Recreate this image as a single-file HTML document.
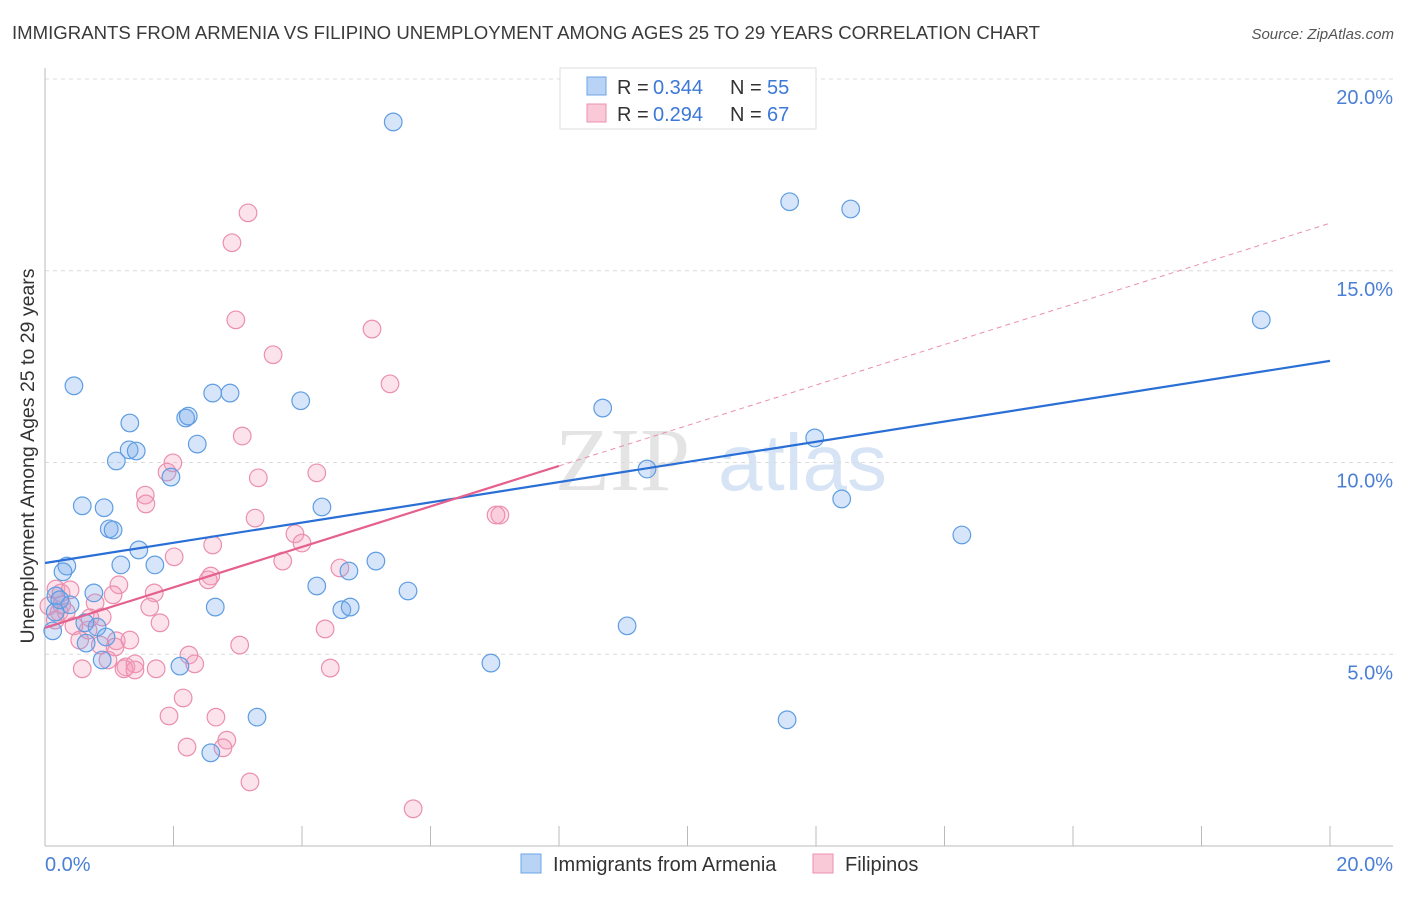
<!DOCTYPE html>
<html><head><meta charset="utf-8"><style>
body{margin:0;background:#fff;font-family:"Liberation Sans",sans-serif;}
</style></head><body>
<svg id="c" width="1406" height="892" xmlns="http://www.w3.org/2000/svg" style="font-family:'Liberation Sans',sans-serif">
<text x="12" y="39" font-size="18.6" fill="#3a3a3a">IMMIGRANTS FROM ARMENIA VS FILIPINO UNEMPLOYMENT AMONG AGES 25 TO 29 YEARS CORRELATION CHART</text>
<text x="1394" y="39" font-size="15" font-style="italic" fill="#555" text-anchor="end">Source: ZipAtlas.com</text>
<g><text x="555" y="490" font-size="90" fill="#e4e4e4" font-family="Liberation Serif,serif">ZIP</text><text x="718" y="490" font-size="80" fill="#d6e4f5">atlas</text></g>
<g id="grid"></g><g id="marks"></g>
<text transform="translate(34,456) rotate(-90)" font-size="19.5" fill="#333" text-anchor="middle">Unemployment Among Ages 25 to 29 years</text>
<g>
<rect x="560" y="68" width="256" height="61" fill="#fff" stroke="#ddd"/>
<rect x="587" y="77" width="19" height="18" fill="#b8d3f5" stroke="#6ea5e6"/>
<text x="617" y="94" font-size="20" fill="#333">R =</text><text x="653" y="94" font-size="20" fill="#3c78d8">0.344</text>
<text x="730" y="94" font-size="20" fill="#333">N =</text><text x="767" y="94" font-size="20" fill="#3c78d8">55</text>
<rect x="587" y="104" width="19" height="18" fill="#f9c9d8" stroke="#ec8fae"/>
<text x="617" y="121" font-size="20" fill="#333">R =</text><text x="653" y="121" font-size="20" fill="#3c78d8">0.294</text>
<text x="730" y="121" font-size="20" fill="#333">N =</text><text x="767" y="121" font-size="20" fill="#3c78d8">67</text>
</g>
<g>
<rect x="521" y="854" width="20" height="19" fill="#b8d3f5" stroke="#6ea5e6"/>
<text x="553" y="871" font-size="20" fill="#333">Immigrants from Armenia</text>
<rect x="813" y="854" width="20" height="19" fill="#f9c9d8" stroke="#ec8fae"/>
<text x="845" y="871" font-size="20" fill="#333">Filipinos</text>
</g>
<text x="45" y="871" font-size="20" fill="#4a7fd6">0.0%</text>
<text x="1393" y="871" font-size="20" fill="#4a7fd6" text-anchor="end">20.0%</text>
</svg>
<script>
const yTicks=[5,10,15,20];
const yTickLabels=["5.0%","10.0%","15.0%","20.0%"];
const xTicks=[0,2,4,6,8,10,12,14,16,18,20];
const blueX=[5.42,11.59,12.54,18.93,0.45,2.61,2.88,3.98,8.68,1.32,2.19,2.23,1.31,1.42,2.37,1.11,11.98,1.96,9.37,12.40,0.58,0.92,1.00,1.06,4.31,14.27,1.46,0.34,0.28,1.18,1.71,5.15,4.73,4.23,5.65,0.76,2.65,4.62,4.75,0.17,0.39,0.16,0.81,9.06,0.95,0.12,0.64,0.89,2.10,6.94,11.55,3.30,2.58,0.62,0.23];
const blueY=[18.88,16.80,16.61,13.72,12.00,11.81,11.81,11.61,11.42,11.03,11.16,11.21,10.33,10.30,10.48,10.04,10.64,9.62,9.83,9.05,8.87,8.82,8.27,8.24,8.84,8.11,7.72,7.30,7.15,7.33,7.33,7.43,7.17,6.78,6.65,6.60,6.23,6.16,6.23,6.52,6.29,6.10,5.71,5.74,5.45,5.61,5.29,4.85,4.69,4.77,3.29,3.36,2.43,5.82,6.42];
const pinkX=[3.16,2.91,2.97,5.09,3.55,5.37,3.07,1.99,1.90,3.32,4.23,1.56,1.57,7.08,7.02,3.27,3.89,4.00,2.61,2.01,3.70,4.59,2.58,2.54,1.15,1.06,1.70,0.17,0.25,1.63,0.78,0.22,0.06,0.33,0.89,1.79,4.36,0.45,0.67,0.54,1.11,1.32,3.03,2.24,1.09,0.98,1.26,1.40,2.33,1.73,0.58,4.44,1.23,2.15,1.93,2.66,2.83,2.77,2.21,3.19,5.73,0.26,0.16,0.39,0.70,0.86,1.40];
const pinkY=[16.51,15.73,13.72,13.48,12.81,12.05,10.69,9.99,9.75,9.60,9.73,9.15,8.92,8.63,8.63,8.55,8.14,7.90,7.85,7.54,7.43,7.25,7.04,6.94,6.81,6.55,6.60,6.70,6.60,6.23,6.34,6.10,6.26,6.10,5.97,5.82,5.66,5.74,5.63,5.37,5.35,5.37,5.24,4.98,5.19,4.85,4.67,4.75,4.75,4.62,4.62,4.64,4.62,3.86,3.39,3.36,2.76,2.56,2.58,1.67,0.97,6.29,5.89,6.68,5.95,5.24,4.59];
const blueTrend=[7.38,12.65];
const pinkTrend=[5.69,16.24];
const pinkSolidEnd=8;
const X0=45,X1=1330,Y0=846,Y1=79;
const sx=v=>X0+(X1-X0)*v/20, sy=v=>Y0-(Y0-Y1)*v/20;
const NS="http://www.w3.org/2000/svg";
function mk(t,a,p){const e=document.createElementNS(NS,t);for(const k in a)e.setAttribute(k,a[k]);p.appendChild(e);return e;}
const g=document.getElementById('grid'),m=document.getElementById('marks');
yTicks.forEach((v,i)=>{
 const l=mk('line',{x1:X0,x2:1393,y1:sy(v),y2:sy(v),stroke:'#dcdcdc','stroke-dasharray':'4,4'},g);
 
 
 const t=mk('text',{x:1393,y:sy(v)+25,'font-size':20,fill:'#4a7fd6','text-anchor':'end'},g);t.textContent=yTickLabels[i];
 
 
});
const ax=mk('line',{x1:X0,x2:X0,y1:68,y2:Y0,stroke:'#bbb'},g);


const bx=mk('line',{x1:X0,x2:1393,y1:Y0,y2:Y0,stroke:'#bbb'},g);


xTicks.forEach(v=>{const t=mk('line',{x1:sx(v),x2:sx(v),y1:Y0-20,y2:Y0,stroke:'#bbb'},g);
 
 });
function pts(xs,ys,fill,stroke,name){xs.forEach((x,i)=>{const c=mk('circle',{cx:sx(x),cy:sy(ys[i]),r:8.8,fill:fill,stroke:stroke,'stroke-width':1.2},m);
 
 });}
pts(pinkX,pinkY,'rgba(244,160,188,0.3)','#eb8fae','filipinos-point');
pts(blueX,blueY,'rgba(120,170,235,0.3)','#5f9de2','armenia-point');
const pd=mk('line',{x1:sx(pinkSolidEnd),y1:sy(pinkTrend[0]+(pinkTrend[1]-pinkTrend[0])*pinkSolidEnd/20),x2:sx(20),y2:sy(pinkTrend[1]),stroke:'#eb8fae','stroke-width':1,'stroke-dasharray':'5,4'},m);


const bl=mk('line',{x1:sx(0),y1:sy(blueTrend[0]),x2:sx(20),y2:sy(blueTrend[1]),stroke:'#2a6fd6','stroke-width':2.2},m);


const pl=mk('line',{x1:sx(0),y1:sy(pinkTrend[0]),x2:sx(pinkSolidEnd),y2:sy(pinkTrend[0]+(pinkTrend[1]-pinkTrend[0])*pinkSolidEnd/20),stroke:'#e5608e','stroke-width':2.2},m);


</script>
</body></html>
